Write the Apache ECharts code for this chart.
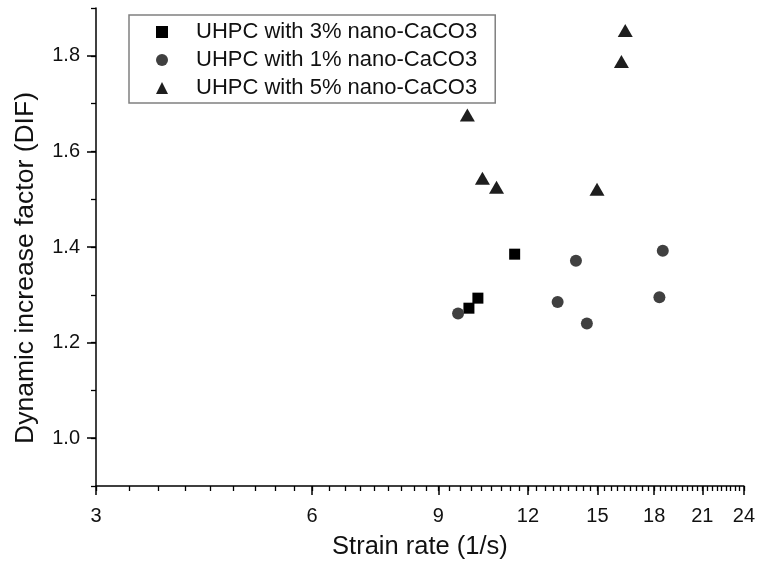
<!DOCTYPE html>
<html>
<head>
<meta charset="utf-8">
<script src="https://cdn.jsdelivr.net/npm/echarts@6/dist/echarts.min.js"></script>
<style>html,body{margin:0;padding:0;background:#fff}#c{width:758px;height:567px}</style>
</head>
<body>
<div id="c"></div>
<script>
// ---- data ----
var seriesNames = ['UHPC with 3% nano-CaCO3', 'UHPC with 1% nano-CaCO3', 'UHPC with 5% nano-CaCO3'];
var rate3 = [9.93, 10.22, 11.5];
var dif3  = [1.272, 1.293, 1.385];
var rate1 = [9.59, 13.2, 14.0, 14.5, 18.3, 18.5];
var dif1  = [1.261, 1.285, 1.371, 1.240, 1.295, 1.392];
var rate5 = [9.88, 10.37, 10.85, 14.98, 16.2, 16.4];
var dif5  = [1.676, 1.544, 1.525, 1.521, 1.788, 1.853];
var xTickLabels = [3, 6, 9, 12, 15, 18, 21, 24];
var yTickLabels = [1.0, 1.2, 1.4, 1.6, 1.8];
var xName = 'Strain rate (1/s)';
var yName = 'Dynamic increase factor (DIF)';

function pairs(xs, ys) { return xs.map(function (x, i) { return [x, ys[i]]; }); }
var xMinor = [];
for (var i = 9; i <= 72; i++) xMinor.push(i / 3);
var yMinor = [];
for (var j = 9; j <= 19; j++) yMinor.push(j / 10);

var FONT = 'Liberation Sans, Arial, sans-serif';
var AX = '#000';
var chart = echarts.init(document.getElementById('c'), null, {renderer: 'canvas'});
chart.setOption({
  backgroundColor: '#fff',
  animation: false,
  grid: {left: 96, right: 14, top: 8, bottom: 81, containLabel: false},
  legend: {
    orient: 'vertical', left: 129, top: 15,
    padding: [6, 18, 4, 27], itemGap: 6, itemWidth: 12, itemHeight: 12,
    borderColor: '#808080', borderWidth: 1.5,
    textStyle: {fontFamily: FONT, fontSize: 22, color: '#111', padding: [0, 0, 0, 23]},
    data: seriesNames
  },
  xAxis: [{
    type: 'log', logBase: 2, min: 3, max: 24,
    name: xName, nameLocation: 'middle', nameGap: 48,
    nameTextStyle: {fontFamily: FONT, fontSize: 25.5, color: '#111'},
    axisLine: {show: true, lineStyle: {color: AX, width: 1.5}},
    axisTick: {show: true, inside: false, length: 9, lineStyle: {color: AX, width: 1.5}, customValues: xTickLabels},
    axisLabel: {show: true, margin: 20, fontFamily: FONT, fontSize: 20, color: '#111', customValues: xTickLabels,
      formatter: function (v) { return String(Math.round(v)); }},
    splitLine: {show: false}, minorTick: {show: false}
  }, {
    type: 'log', logBase: 2, min: 3, max: 24, position: 'bottom',
    axisLine: {show: false},
    axisTick: {show: true, inside: false, length: 5, lineStyle: {color: AX, width: 1.3}, customValues: xMinor},
    axisLabel: {show: false}, splitLine: {show: false}
  }],
  yAxis: [{
    type: 'value', min: 0.9, max: 1.9,
    axisLine: {show: true, lineStyle: {color: AX, width: 1.5}},
    axisTick: {show: true, inside: false, length: 9, lineStyle: {color: AX, width: 1.5}, customValues: yTickLabels},
    axisLabel: {show: true, margin: 16, fontFamily: FONT, fontSize: 20, color: '#111', customValues: yTickLabels,
      formatter: function (v) { return v.toFixed(1); }},
    splitLine: {show: false}
  }, {
    type: 'value', min: 0.9, max: 1.9, position: 'left',
    axisLine: {show: false},
    axisTick: {show: true, inside: false, length: 5, lineStyle: {color: AX, width: 1.3}, customValues: yMinor},
    axisLabel: {show: false}, splitLine: {show: false}
  }],
  graphic: [{
    type: 'text', x: 26, y: 268, rotation: Math.PI / 2,
    style: {text: yName, font: '26.5px ' + FONT, fill: '#111', align: 'center', verticalAlign: 'middle'}
  }],
  series: [{
    name: seriesNames[0], type: 'scatter', symbol: 'rect', symbolSize: 11,
    itemStyle: {color: '#000', opacity: 1}, data: pairs(rate3, dif3)
  }, {
    name: seriesNames[1], type: 'scatter', symbol: 'circle', symbolSize: 12,
    itemStyle: {color: '#404040', opacity: 1}, data: pairs(rate1, dif1)
  }, {
    name: seriesNames[2], type: 'scatter', symbol: 'triangle', symbolSize: [15, 13],
    itemStyle: {color: '#1e1e1e', opacity: 1}, data: pairs(rate5, dif5)
  }]
});
</script>
</body>
</html>
